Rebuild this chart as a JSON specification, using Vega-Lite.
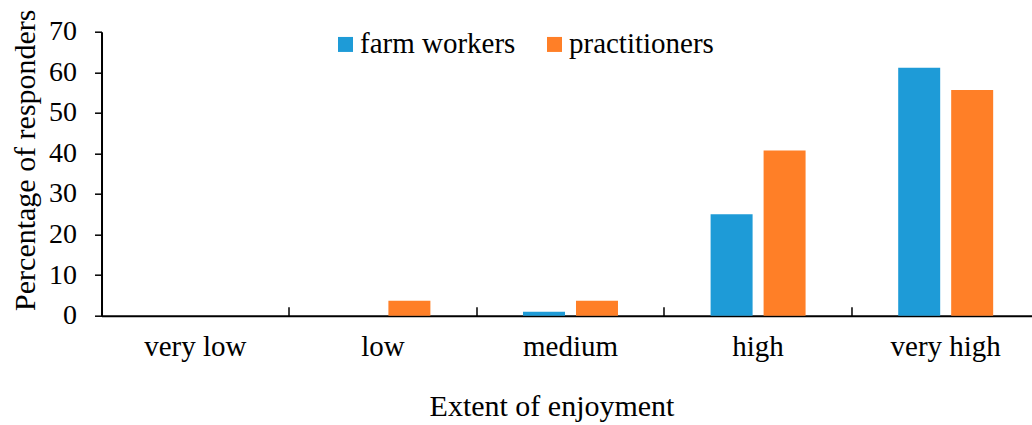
{
  "$schema": "https://vega.github.io/schema/vega-lite/v6.json",
  "autosize": {"type": "none"},
  "padding": {"left": 101.5, "top": 31.7, "right": 0, "bottom": 109},
  "width": 938,
  "height": 284,
  "background": "white",
  "data": {
    "values": [
      {"extent": "very low", "group": "farm workers", "percent": 0},
      {"extent": "very low", "group": "practitioners", "percent": 0},
      {"extent": "low", "group": "farm workers", "percent": 0},
      {"extent": "low", "group": "practitioners", "percent": 3.7},
      {"extent": "medium", "group": "farm workers", "percent": 1.0},
      {"extent": "medium", "group": "practitioners", "percent": 3.7},
      {"extent": "high", "group": "farm workers", "percent": 25.0},
      {"extent": "high", "group": "practitioners", "percent": 40.7},
      {"extent": "very high", "group": "farm workers", "percent": 61.1},
      {"extent": "very high", "group": "practitioners", "percent": 55.6}
    ]
  },
  "mark": {"type": "bar"},
  "encoding": {
    "x": {
      "field": "extent",
      "type": "nominal",
      "sort": ["very low", "low", "medium", "high", "very high"],
      "scale": {"paddingInner": 0, "paddingOuter": 0},
      "axis": {
        "title": "Extent of enjoyment",
        "labelAngle": 0,
        "bandPosition": 0,
        "labelFontSize": 29,
        "tickSize": -9,
        "tickWidth": 1.5,
        "tickColor": "black",
        "domainColor": "black",
        "domainWidth": 2,
        "labelPadding": 26,
        "titleX": 450,
        "titleY": 100,
        "titleBaseline": "alphabetic",
        "titleAnchor": null
      }
    },
    "xOffset": {
      "field": "group",
      "type": "nominal",
      "scale": {"paddingInner": 0.2075, "paddingOuter": 0.874}
    },
    "y": {
      "field": "percent",
      "type": "quantitative",
      "scale": {"domain": [0, 70], "nice": false},
      "axis": {
        "title": "Percentage of responders",
        "values": [0, 10, 20, 30, 40, 50, 60, 70],
        "grid": false,
        "tickSize": 7,
        "tickWidth": 1.5,
        "tickColor": "black",
        "domainColor": "black",
        "domainWidth": 2,
        "labelPadding": 18,
        "titlePadding": 8,
        "titleY": 128
      }
    },
    "color": {
      "field": "group",
      "type": "nominal",
      "scale": {"domain": ["farm workers", "practitioners"], "range": ["#1E9BD7", "#FF7F27"]},
      "legend": {
        "title": null,
        "orient": "none",
        "direction": "horizontal",
        "legendX": 229.5,
        "legendY": -2,
        "symbolType": "square",
        "symbolSize": 225,
        "symbolStrokeWidth": 0,
        "labelOffset": 0,
        "columnPadding": 24,
        "padding": 0
      }
    }
  },
  "config": {
    "view": {"stroke": null},
    "font": "Liberation Serif",
    "axis": {
      "labelFont": "Liberation Serif",
      "titleFont": "Liberation Serif",
      "labelFontSize": 28,
      "titleFontSize": 30,
      "labelColor": "black",
      "titleColor": "black",
      "titleFontWeight": "normal"
    },
    "legend": {
      "labelFont": "Liberation Serif",
      "labelFontSize": 29,
      "labelColor": "black",
      "symbolOpacity": 1
    }
  }
}
